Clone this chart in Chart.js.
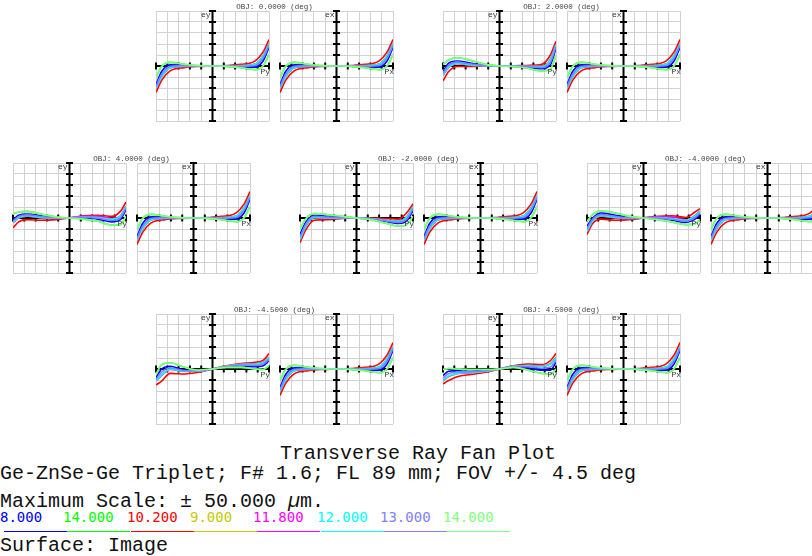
<!DOCTYPE html>
<html>
<head>
<meta charset="utf-8">
<script src="https://cdn.jsdelivr.net/npm/chart.js@4.4.0/dist/chart.umd.min.js"></script>
<style>
  body { margin: 0; width: 812px; height: 556px; background: #fff; position: relative; overflow: hidden; font-family: 'Liberation Mono', monospace; }
  canvas { position: absolute; }
  .obj { position: absolute; font: 7.5px 'Liberation Mono', monospace; color: #444; transform: translateX(-50%); white-space: nowrap; line-height: 8px; }
  .txt { position: absolute; left: 0; font-size: 20px; line-height: 20px; color: #111; white-space: pre; }
  .wl { position: absolute; top: 510px; font: 14px 'DejaVu Sans Mono', monospace; line-height: 14px; white-space: nowrap; }
  .ul { position: absolute; top: 531px; height: 1px; }
</style>
</head>
<body>
<div class="txt" style="left:280px; top:444px">Transverse Ray Fan Plot</div>
<div class="txt" style="top:464px">Ge-ZnSe-Ge Triplet; F# 1.6; FL 89 mm; FOV +/- 4.5 deg</div>
<div class="txt" style="top:492px">Maximum Scale: ± 50.000 <i>µ</i>m.</div>
<div class="txt" style="top:536px">Surface: Image</div>
<script>
// pupil coordinate of each sample (Py or Px)
const pupil = [-1, -0.9, -0.75, -0.5, -0.25, 0, 0.25, 0.5, 0.75, 0.9, 1];

// wavelengths (µm) in legend order, with their colours
const wavelengths = ['8.000', '14.000', '10.200', '9.000', '11.800', '12.000', '13.000', '14.000'];
const waveColors = ['#0000ff', '#00ff00', '#ff0000', '#c8c800', '#ff00ff', '#00ffff', '#8080ff', '#80ff80'];
// row of each wavelength in a fan table (both 14.000 entries share one row)
const waveRow = [0, 1, 2, 3, 4, 5, 6, 1];

// fan tables, ray error in µm; rows: 8.0, 14.0, 10.2, 9.0, 11.8, 12.0, 13.0
const fanSagittal = [
  [-17, -5, 1.2, 0.6, 0.1, 0, -0.1, -0.6, -1.2, 5, 17],
  [-10.5, -0.5, 3.3, 1.6, 0.3, 0, -0.3, -1.6, -3.3, 0.5, 10.5],
  [-24, -13, -4.5, -1.5, -0.4, 0, 0.4, 1.5, 4.5, 13, 24],
  [-20.4, -9.9, -1.8, -0.3, 0, 0, 0, 0.3, 1.8, 9.9, 20.4],
  [-20.2, -9.7, -1.6, -0.25, 0, 0, 0, 0.25, 1.6, 9.7, 20.2],
  [-20, -9.5, -1.5, -0.2, 0, 0, 0, 0.2, 1.5, 9.5, 20],
  [-18.5, -7.5, -0.2, 0.2, 0, 0, 0, -0.2, 0.2, 7.5, 18.5]
];
const fanEy2 = [
  [-5, 2.5, 4.5, 2.5, 0.5, 0, -0.3, -1, -2.5, 1, 16],
  [1.5, 5.5, 7.5, 5, 1.5, 0, -0.5, -2, -4.5, -3, 10],
  [-13.5, -5, -0.5, -0.5, -0.1, 0, 0.2, 0.5, 1.5, 10, 22.5],
  [-8.5, -1.4, 2.2, 0.8, 0.2, 0, -0.1, -0.3, -0.3, 6, 19.4],
  [-8.2, -1.2, 2.4, 0.9, 0.2, 0, -0.1, -0.35, -0.4, 5.7, 19.2],
  [-8, -1, 2.5, 1, 0.2, 0, -0.1, -0.4, -0.5, 5.5, 19],
  [-6.5, 0.8, 3.5, 1.8, 0.4, 0, -0.2, -0.7, -1.5, 3, 17.5]
];
const fanEy4 = [
  [-1.5, 2.5, 3.5, 2, 0.5, 0, 0.5, -1, -3.5, -1.5, 7.5],
  [3.5, 5.5, 6, 3.5, 1, 0, -1, -3, -6.5, -6, 1.5],
  [-9, -3.5, -1.5, -2, -1.5, 0, 2, 2.5, 1.5, 6, 14.5],
  [-4.5, 0.1, 1.7, 0.3, -0.1, 0, 0.9, 0.7, -0.7, 2, 11],
  [-4.2, 0.3, 1.8, 0.4, -0.3, 0, 1.6, 1.6, -0.5, 1.7, 10.7],
  [-4, 0.5, 2, 0.5, 0, 0, 0.8, 0.5, -1, 1.5, 10.5],
  [-2.8, 1.5, 2.8, 1.3, 0.3, 0, 0.7, -0.3, -2.3, 0, 9]
];
const fanEyM2 = [
  [-15, -4, 2.5, 1.5, 0.7, 0, -1, -3, -5, -2, 6.5],
  [-10, -1, 4, 3, 1.5, 0, -1.5, -4.5, -7.5, -5.5, 1.5],
  [-22.5, -11, -2, -1.5, -0.5, 0, 0, -0.5, -1, 5.5, 13],
  [-19.9, -7.9, 0.2, -0.2, 0.2, 0, -0.6, -1.8, -2.7, 1.9, 10.4],
  [-19.7, -7.7, 0.4, -0.1, 0.25, 0, -0.65, -1.9, -2.9, 1.7, 10.2],
  [-19.5, -7.5, 0.5, 0, 0.3, 0, -0.7, -2, -3, 1.5, 10],
  [-17.5, -5.8, 1.5, 0.8, 0.5, 0, -0.8, -2.5, -4, -0.3, 8.2]
];
const fanEyM4 = [
  [-7.5, 0, 4.5, 2.5, 0.5, 0, -0.5, -2, -4, -1.5, 3],
  [-3, 3, 6.5, 4.5, 1.5, 0, -1.5, -3.5, -6, -5.5, -1.5],
  [-15, -5, -1, -2, -1.5, 0, 1.5, 2, 0.5, 5, 8.5],
  [-12.4, -2.9, 1.7, 0.3, -0.3, 0, 0.4, -0.3, -1.7, 1.9, 6.4],
  [-12.2, -2.7, 1.9, 0.3, -0.3, 0, 1.1, 1.2, -1.8, 1.7, 6.2],
  [-12, -2.5, 2, 0.5, -0.2, 0, 0.3, -0.5, -2, 1.5, 6],
  [-9.8, -1.2, 3.2, 1.5, 0.2, 0, -0.1, -1.2, -3, 0, 4.5]
];
const fanEyM45 = [
  [-8, 0, 2.5, -1, -1.5, 0, 2, 3, 2, 3, 7.5],
  [-5, 4, 5.7, 1.5, -1, 0, 1.5, 1.5, 0, -0.5, 3],
  [-14.5, -11, -4, -4.5, -3, 0, 3, 5, 6, 8, 14],
  [-10.9, -5.9, -0.3, -2.2, -2.1, 0, 2.6, 4.2, 4.8, 6.3, 10.9],
  [-10.7, -5.7, -0.15, -2.1, -2.05, 0, 2.55, 4.1, 4.65, 6.15, 10.7],
  [-10.5, -5.5, 0, -2, -2, 0, 2.5, 4, 4.5, 6, 10.5],
  [-9.2, -2.8, 1.2, -1.5, -1.8, 0, 2.2, 3.5, 3.2, 4.5, 9]
];
const fanEy45 = [
  [-6, -2, -1.5, -2, -1, 0, 2, 1, -1, -1, 6],
  [-0.5, 0.5, 0, -0.5, -0.5, 0, 1.5, -1, -4, -5, 0],
  [-13.5, -10.5, -7, -5, -3, 0, 3, 4.5, 4, 7.5, 14],
  [-10.9, -6.9, -4.3, -3.4, -2.1, 0, 2.6, 3.2, 2.8, 4.9, 10.4],
  [-10.7, -6.7, -4.15, -3.3, -2.05, 0, 2.55, 3.1, 2.65, 4.7, 10.2],
  [-10.5, -6.5, -4, -3.2, -2, 0, 2.5, 3, 2.5, 4.5, 10],
  [-8.2, -4.2, -2.7, -2.6, -1.5, 0, 2.2, 2, 0.7, 1.8, 8]
];

const maxScale = 50; // µm

// field plots: title, top-left of the ey panel, tables for ey and ex
const fields = [
  { title: 'OBJ: 0.0000 (deg)', left: 156, top: 11, ey: fanSagittal, ex: fanSagittal },
  { title: 'OBJ: 2.0000 (deg)', left: 443, top: 11, ey: fanEy2, ex: fanSagittal },
  { title: 'OBJ: 4.0000 (deg)', left: 13, top: 163, ey: fanEy4, ex: fanSagittal },
  { title: 'OBJ: -2.0000 (deg)', left: 300, top: 163, ey: fanEyM2, ex: fanSagittal },
  { title: 'OBJ: -4.0000 (deg)', left: 587, top: 163, ey: fanEyM4, ex: fanSagittal },
  { title: 'OBJ: -4.5000 (deg)', left: 156, top: 314, ey: fanEyM45, ex: fanSagittal },
  { title: 'OBJ: 4.5000 (deg)', left: 443, top: 314, ey: fanEy45, ex: fanSagittal },
];

const PW = 113, PH = 110, GAP = 11, M = 5;

// centred axes with tick marks and the ey / Py labels
const fanAxes = {
  id: 'fanAxes',
  beforeDatasetsDraw(chart, args, opts) {
    const { ctx, chartArea: a, scales: { x, y } } = chart;
    const x0 = x.getPixelForValue(0), y0 = y.getPixelForValue(0);
    ctx.save();
    ctx.strokeStyle = '#000';
    ctx.lineWidth = 2;
    ctx.beginPath();
    ctx.moveTo(x0, a.top); ctx.lineTo(x0, a.bottom);
    ctx.moveTo(a.left, y0); ctx.lineTo(a.right, y0);
    y.ticks.forEach(t => {
      const p = y.getPixelForValue(t.value);
      ctx.moveTo(x0 - 3.5, p); ctx.lineTo(x0 + 3.5, p);
    });
    x.ticks.forEach(t => {
      const p = x.getPixelForValue(t.value);
      ctx.moveTo(p, y0 - 3.5); ctx.lineTo(p, y0 + 3.5);
    });
    ctx.stroke();
    ctx.restore();
  },
  afterDatasetsDraw(chart, args, opts) {
    const { ctx, chartArea: a, scales: { x, y } } = chart;
    const x0 = x.getPixelForValue(0), y0 = y.getPixelForValue(0);
    ctx.save();
    ctx.font = '8px "Liberation Mono"';
    ctx.fillStyle = '#333';
    ctx.textAlign = 'right';
    ctx.textBaseline = 'middle';
    ctx.fillText(opts.yLabel, x0 - 2, a.top + 4);
    ctx.fillText(opts.xLabel, a.right + 1, y0 + 6);
    ctx.restore();
  }
};

function makeFan(left, top, table, yLabel, xLabel) {
  const cv = document.createElement('canvas');
  cv.width = PW + 2 * M;
  cv.height = PH + 2 * M;
  cv.style.left = (left - M) + 'px';
  cv.style.top = (top - M) + 'px';
  document.body.appendChild(cv);
  // later wavelengths are drawn over earlier ones
  const datasets = wavelengths.map((w, i) => ({
    label: w,
    order: -i,
    data: pupil.map((p, k) => ({ x: p, y: table[waveRow[i]][k] })),
    borderColor: waveColors[i],
    borderWidth: 1.6,
    showLine: true,
    pointRadius: 0,
    cubicInterpolationMode: 'monotone',
  }));
  new Chart(cv, {
    type: 'scatter',
    data: { datasets },
    options: {
      responsive: false,
      animation: false,
      devicePixelRatio: 1,
      layout: { padding: M },
      plugins: { legend: { display: false }, tooltip: { enabled: false }, fanAxes: { yLabel, xLabel } },
      scales: {
        x: {
          min: -1, max: 1,
          ticks: { display: false, stepSize: 0.2 },
          grid: { color: '#d2d2d2', drawTicks: false },
          border: { display: false },
        },
        y: {
          min: -maxScale, max: maxScale,
          ticks: { display: false, stepSize: 10 },
          grid: { color: '#d2d2d2', drawTicks: false },
          border: { display: false },
        },
      },
    },
    plugins: [fanAxes],
  });
}

fields.forEach(f => {
  makeFan(f.left, f.top, f.ey, 'ey', 'Py');
  makeFan(f.left + PW + GAP, f.top, f.ex, 'ex', 'Px');
  const t = document.createElement('div');
  t.className = 'obj';
  t.textContent = f.title;
  t.style.left = (f.left + PW + GAP / 2) + 'px';
  t.style.top = (f.top - 8) + 'px';
  document.body.appendChild(t);
});

// wavelength legend with coloured underlines
wavelengths.forEach((w, i) => {
  const d = document.createElement('div');
  d.className = 'wl';
  d.textContent = w;
  d.style.left = Math.round(i * 63.3) + 'px';
  d.style.color = waveColors[i];
  document.body.appendChild(d);
  const u = document.createElement('div');
  u.className = 'ul';
  u.style.left = Math.round(4 + i * 63.3) + 'px';
  u.style.width = '63px';
  u.style.background = waveColors[i];
  document.body.appendChild(u);
});
</script>
</body>
</html>
